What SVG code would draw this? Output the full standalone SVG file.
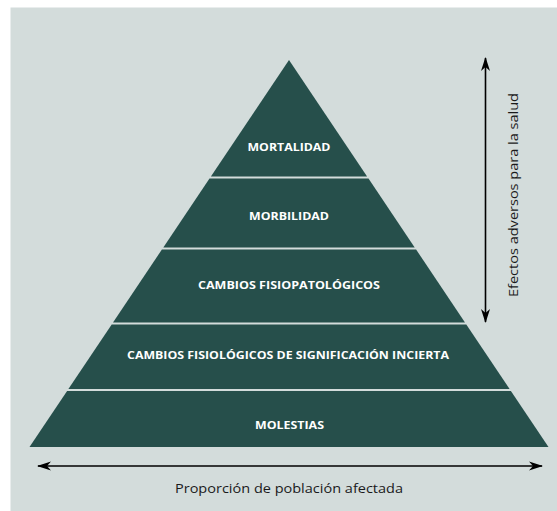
<svg xmlns="http://www.w3.org/2000/svg" width="557" height="511" viewBox="0 0 557 511">
  <defs>
    <style>
      .band { fill: #264f4b; }
      .sep { stroke: #e2e8e7; stroke-width: 2; }
      .lbl { font-family: "Open Sans", "Liberation Sans", sans-serif; font-weight: bold; font-size: 10.5px; fill: #ffffff; text-anchor: middle; }
      .axis { font-family: "Open Sans", "Liberation Sans", sans-serif; font-size: 13px; fill: #1a1a1a; text-anchor: middle; }
      .arrow { stroke: #000; stroke-width: 1.6; fill: none; }
    </style>
    <marker id="ah" viewBox="0 0 14 10" refX="13" refY="5" markerWidth="14" markerHeight="10" markerUnits="userSpaceOnUse" orient="auto-start-reverse">
      <path d="M0,0.5 L14,5 L0,9.5 L4,5 Z" fill="#000"/>
    </marker>
  </defs>
  <rect x="0" y="0" width="557" height="511" fill="#ffffff"/>
  <rect x="10.5" y="7.5" width="546.5" height="503.5" fill="#d3dcdb"/>

  <g id="mortalidad">
    <polygon class="band" points="289,60 367.1,176.5 210.9,176.5"/>
    <text class="lbl" x="289" y="151" textLength="83" lengthAdjust="spacingAndGlyphs">MORTALIDAD</text>
  </g>
  <g id="morbilidad">
    <polygon class="band" points="209.5,178.5 368.5,178.5 414.7,247.5 163.3,247.5"/>
    <text class="lbl" x="289" y="220" textLength="80" lengthAdjust="spacingAndGlyphs">MORBILIDAD</text>
  </g>
  <g id="cambios-fisiopatologicos">
    <polygon class="band" points="161.9,249.5 416.1,249.5 465,322.5 113,322.5"/>
    <text class="lbl" x="289" y="289" textLength="182" lengthAdjust="spacingAndGlyphs">CAMBIOS FISIOPATOLÓGICOS</text>
  </g>
  <g id="cambios-fisiologicos">
    <polygon class="band" points="111.7,324.5 466.3,324.5 509.6,389 68.4,389"/>
    <text class="lbl" x="288" y="359" textLength="322" lengthAdjust="spacingAndGlyphs">CAMBIOS FISIOLÓGICOS DE SIGNIFICACIÓN INCIERTA</text>
  </g>
  <g id="molestias">
    <polygon class="band" points="67.1,391 510.9,391 548.5,447 29.5,447"/>
    <text class="lbl" x="289.5" y="429" textLength="69" lengthAdjust="spacingAndGlyphs">MOLESTIAS</text>
  </g>

  <g id="connectors">
    <line class="arrow" x1="485.5" y1="322" x2="485.5" y2="58" marker-start="url(#ah)" marker-end="url(#ah)"/>
    <line class="arrow" x1="38" y1="466" x2="542" y2="466" marker-start="url(#ah)" marker-end="url(#ah)"/>
  </g>

  <g id="axis-labels">
    <text class="axis" x="289" y="493" textLength="228" lengthAdjust="spacingAndGlyphs">Proporción de población afectada</text>
    <text class="axis" transform="translate(518,195) rotate(-90)" x="0" y="0" textLength="204" lengthAdjust="spacingAndGlyphs">Efectos adversos para la salud</text>
  </g>
</svg>
